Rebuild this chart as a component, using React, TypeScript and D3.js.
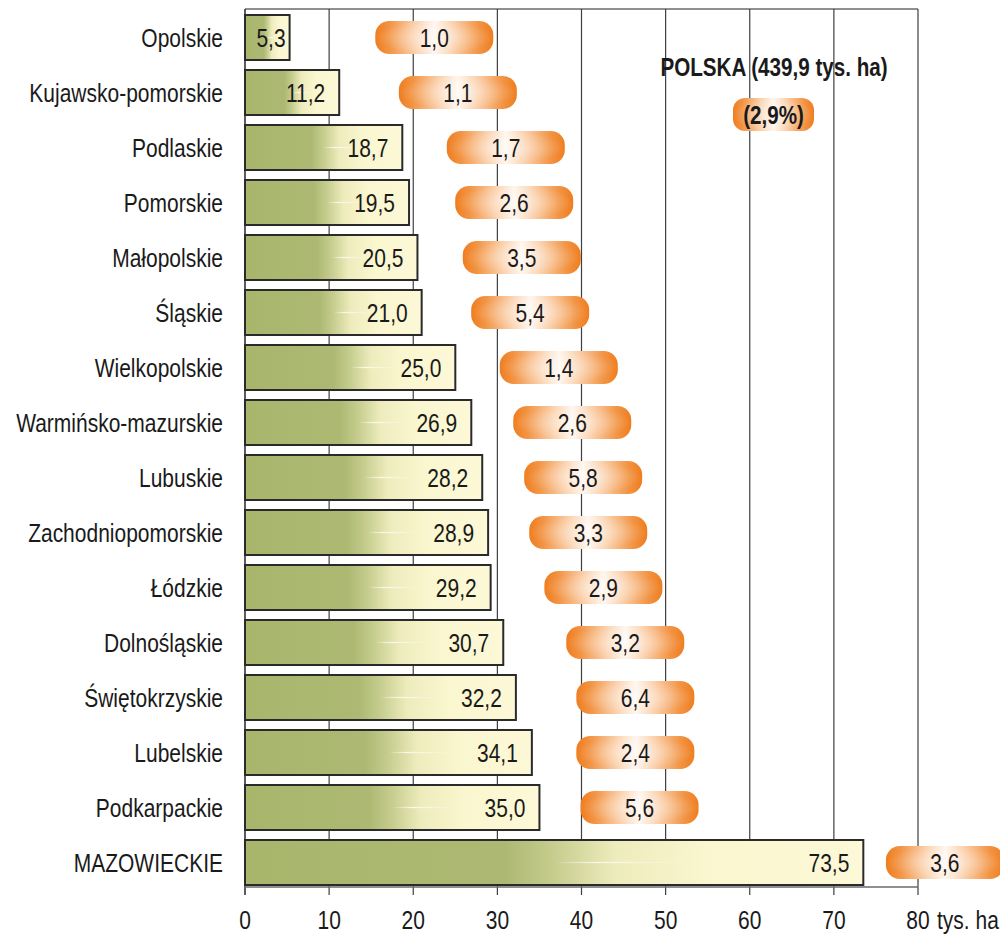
import React from "react";
import * as d3 from "d3";

const regions: string[] = [
  "Opolskie", "Kujawsko-pomorskie", "Podlaskie", "Pomorskie", "Małopolskie", "Śląskie",
  "Wielkopolskie", "Warmińsko-mazurskie", "Lubuskie", "Zachodniopomorskie", "Łódzkie",
  "Dolnośląskie", "Świętokrzyskie", "Lubelskie", "Podkarpackie", "MAZOWIECKIE",
];
const areaThousandHa: number[] = [5.3, 11.2, 18.7, 19.5, 20.5, 21.0, 25.0, 26.9, 28.2, 28.9, 29.2, 30.7, 32.2, 34.1, 35.0, 73.5];
const sharePercent: number[] = [1.0, 1.1, 1.7, 2.6, 3.5, 5.4, 1.4, 2.6, 5.8, 3.3, 2.9, 3.2, 6.4, 2.4, 5.6, 3.6];
// where each percentage badge sits, in axis units
const shareBadgeAt: number[] = [22.5, 25.3, 31.0, 32.0, 32.9, 33.9, 37.3, 38.9, 40.2, 40.8, 42.6, 45.2, 46.4, 46.4, 46.9, 83.2];
const xTicks: number[] = [0, 10, 20, 30, 40, 50, 60, 70, 80];
const totalLabel = "POLSKA (439,9 tys. ha)";
const totalShare = "(2,9%)";
const unitLabel = "tys. ha";

const fmt = (v: number) => v.toFixed(1).replace(".", ",");

const W = 1000;
const H = 935;
const FONT = "'Liberation Sans', Arial, sans-serif";

type TProps = {
  x: number;
  y: number;
  anchor?: "start" | "middle" | "end";
  bold?: boolean;
  sx?: number;
  size?: number;
  children: React.ReactNode;
};
function T({ x, y, anchor = "start", bold = false, sx = 0.84, size = 25, children }: TProps) {
  return (
    <text
      transform={`translate(${x},${y}) scale(${sx},1)`}
      textAnchor={anchor}
      fontSize={size}
      fontWeight={bold ? "bold" : "normal"}
      fill="#1a1a1a"
    >
      {children}
    </text>
  );
}

export default function App() {
  const x = d3.scaleLinear().domain([0, 80]).range([245, 918]);
  const y = d3
    .scaleBand<string>()
    .domain(regions)
    .range([10, 890])
    .paddingInner(10 / 55)
    .paddingOuter(5 / 55);
  const bw = y.bandwidth();
  const pillW = 118;
  const pillH = 33;
  const axisY = 887;
  const top = 9;
  const base = 9; // baseline offset from centre

  return (
    <svg
      width={W}
      height={H}
      style={{ position: "absolute", left: 0, top: 0, background: "#fff" }}
      fontFamily={FONT}
    >
      <defs>
        <linearGradient id="barGrad" x1="0" x2="1" y1="0" y2="0">
          <stop offset="0" stopColor="#a8b66c" />
          <stop offset="0.42" stopColor="#adb972" />
          <stop offset="0.5" stopColor="#c6cd8e" />
          <stop offset="0.6" stopColor="#eeecbd" />
          <stop offset="0.75" stopColor="#faf6cf" />
          <stop offset="1" stopColor="#fdf9d8" />
        </linearGradient>
        <linearGradient id="shine" x1="0" x2="1" y1="0" y2="0">
          <stop offset="0" stopColor="#ffffff" stopOpacity="0" />
          <stop offset="0.3" stopColor="#ffffff" stopOpacity="0.8" />
          <stop offset="1" stopColor="#ffffff" stopOpacity="0" />
        </linearGradient>
        <linearGradient id="pillGrad" x1="0" x2="1" y1="0" y2="0">
          <stop offset="0" stopColor="#ef7d1f" />
          <stop offset="0.12" stopColor="#f29444" />
          <stop offset="0.35" stopColor="#fbd3b0" />
          <stop offset="0.5" stopColor="#fff6ee" />
          <stop offset="0.65" stopColor="#fbd3b0" />
          <stop offset="0.88" stopColor="#f29444" />
          <stop offset="1" stopColor="#ef7d1f" />
        </linearGradient>
        <radialGradient id="pillGlow" cx="0.5" cy="0.5" r="0.5">
          <stop offset="0" stopColor="#ffffff" stopOpacity="0.5" />
          <stop offset="1" stopColor="#ffffff" stopOpacity="0" />
        </radialGradient>
      </defs>

      {/* grid */}
      <line x1={x(0)} x2={x(80)} y1={top} y2={top} stroke="#6a6a6a" strokeWidth={1.5} />
      {xTicks.map((t) => (
        <line key={"g" + t} x1={x(t)} x2={x(t)} y1={top} y2={895} stroke={t === 0 ? "#333" : "#3f3f3f"} strokeWidth={t === 0 ? 1.6 : 1.2} />
      ))}
      <line x1={x(0)} x2={x(80)} y1={axisY} y2={axisY} stroke="#6a6a6a" strokeWidth={1.5} />

      {/* bars */}
      {regions.map((r, i) => {
        const y0 = y(r)!;
        const x1 = x(areaThousandHa[i]);
        const w = x1 - x(0);
        const cy = y0 + bw / 2;
        return (
          <g key={r}>
            <rect x={x(0)} y={y0} width={w} height={bw} fill="url(#barGrad)" stroke="#2a2a2a" strokeWidth={2} />
            <rect x={x(0) + w * 0.5} y={cy - 0.6} width={w * 0.22} height={1.2} fill="url(#shine)" />
            <T x={areaThousandHa[i] < 8 ? x1 - 4 : x1 - 14} y={cy + base} anchor="end">
              {fmt(areaThousandHa[i])}
            </T>
            <T x={223} y={cy + base} anchor="end">
              {r}
            </T>
          </g>
        );
      })}

      {/* share badges */}
      {regions.map((r, i) => {
        const cy = y(r)! + bw / 2;
        const cx = x(shareBadgeAt[i]);
        return (
          <g key={"p" + r}>
            <rect x={cx - pillW / 2} y={cy - pillH / 2} width={pillW} height={pillH} rx={14} fill="url(#pillGrad)" />
            <rect x={cx - pillW / 2} y={cy - pillH / 2} width={pillW} height={pillH} rx={14} fill="url(#pillGlow)" />
            <T x={cx} y={cy + base} anchor="middle">
              {fmt(sharePercent[i])}
            </T>
          </g>
        );
      })}

      {/* total */}
      <T x={774} y={76} anchor="middle" bold sx={0.825}>
        {totalLabel}
      </T>
      <g>
        <rect x={733} y={98} width={81} height={33} rx={12} fill="url(#pillGrad)" />
        <rect x={733} y={98} width={81} height={33} rx={12} fill="url(#pillGlow)" />
        <T x={773.5} y={114.5 + base} anchor="middle" bold sx={0.825}>
          {totalShare}
        </T>
      </g>

      {/* x tick labels */}
      {xTicks.map((t) => (
        <T key={"t" + t} x={x(t)} y={929} anchor="middle">
          {t}
        </T>
      ))}
      <T x={x(80) + 19} y={929}>
        {unitLabel}
      </T>
    </svg>
  );
}
